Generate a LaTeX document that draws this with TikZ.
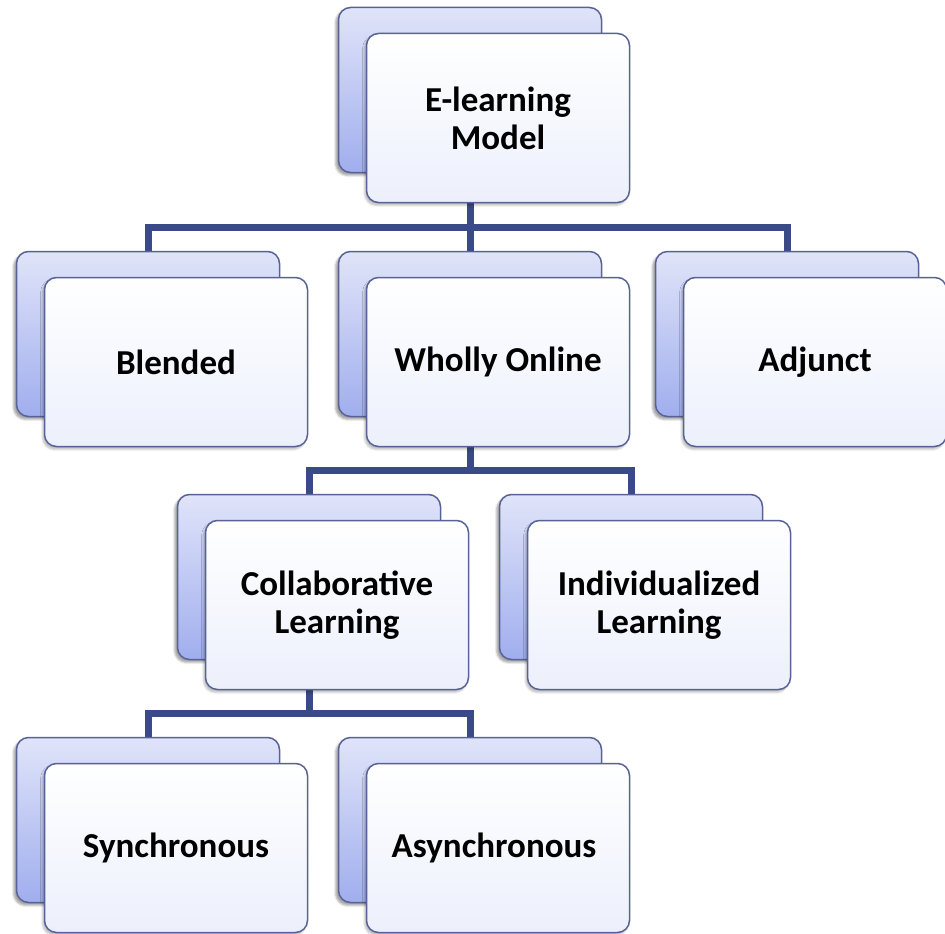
\documentclass[tikz,border=0pt]{standalone}
\usepackage{fontspec}
\setmainfont{Carlito}
\usetikzlibrary{calc}
\usetikzlibrary{backgrounds}
\usetikzlibrary{shadows.blur}
\definecolor{backtop}{RGB}{224,228,249}
\definecolor{backbot}{RGB}{160,174,238}
\definecolor{frontbot}{RGB}{236,240,252}
\definecolor{boxline}{RGB}{88,98,150}
\definecolor{linkcol}{RGB}{58,74,136}
\tikzset{basic box/.style={draw=boxline,
                           line width=1.5pt,
                           rounded corners=12pt,
                           minimum width=263pt,
                           inner sep=0pt}}
\tikzset{back box/.style={basic box,minimum height=165pt,
                          top color=backtop,bottom color=backbot,
                          blur shadow={shadow xshift=-3pt,shadow yshift=-3pt,shadow opacity=35}}}
\tikzset{front box/.style={basic box,minimum height=169pt,
                           top color=white,bottom color=frontbot,
                           align=center,
                           font=\bfseries\fontsize{35}{38}\selectfont,
                           blur shadow={shadow xshift=-2pt,shadow yshift=-3pt,shadow opacity=25}}}
\tikzset{link/.style={draw=linkcol,line width=7pt}}

\begin{document}
\begin{tikzpicture}[x=1pt,y=-1pt]
      \useasboundingbox (0,0) rectangle (945,934);

      % boxes
      \foreach \n/\x/\y/\t in
      {
      el/470/90/{E-learning\\Model},
      bl/148/334/{Blended},
      wo/470/334/{Wholly Online},
      ad/787/334/{Adjunct},
      cl/309/577/{Collaborative\\Learning},
      il/631/577/{Individualized\\Learning},
      sy/148/820/{Synchronous},
      as/470/820/{Asynchronous}
      }
      {
      \node [back box] (\n B) at (\x,\y) {};
      \node [front box] (\n F) at ($(\n B)+(28,28)$) {\t};
      }

      % links
      \begin{scope}[on background layer]
      \coordinate (bar1) at ($(elF.south)!0.5!(woB.north)$);
      \coordinate (bar2) at ($(woF.south)!0.5!(clB.north)$);
      \coordinate (bar3) at ($(clF.south)!0.5!(syB.north)$);

      \draw [link] (elB.center) -- (elB.center |- bar1) -| (blB.north);
      \draw [link] (elB.center |- bar1) -| (adB.north);
      \draw [link] (elB.center |- bar1) -- (woB.north);

      \draw [link] (woB.center) -- (woB.center |- bar2) -| (clB.north);
      \draw [link] (woB.center |- bar2) -| (ilB.north);

      \draw [link] (clB.center) -- (clB.center |- bar3) -| (syB.north);
      \draw [link] (clB.center |- bar3) -| (asB.north);
      \end{scope}

\end{tikzpicture}
\end{document}
